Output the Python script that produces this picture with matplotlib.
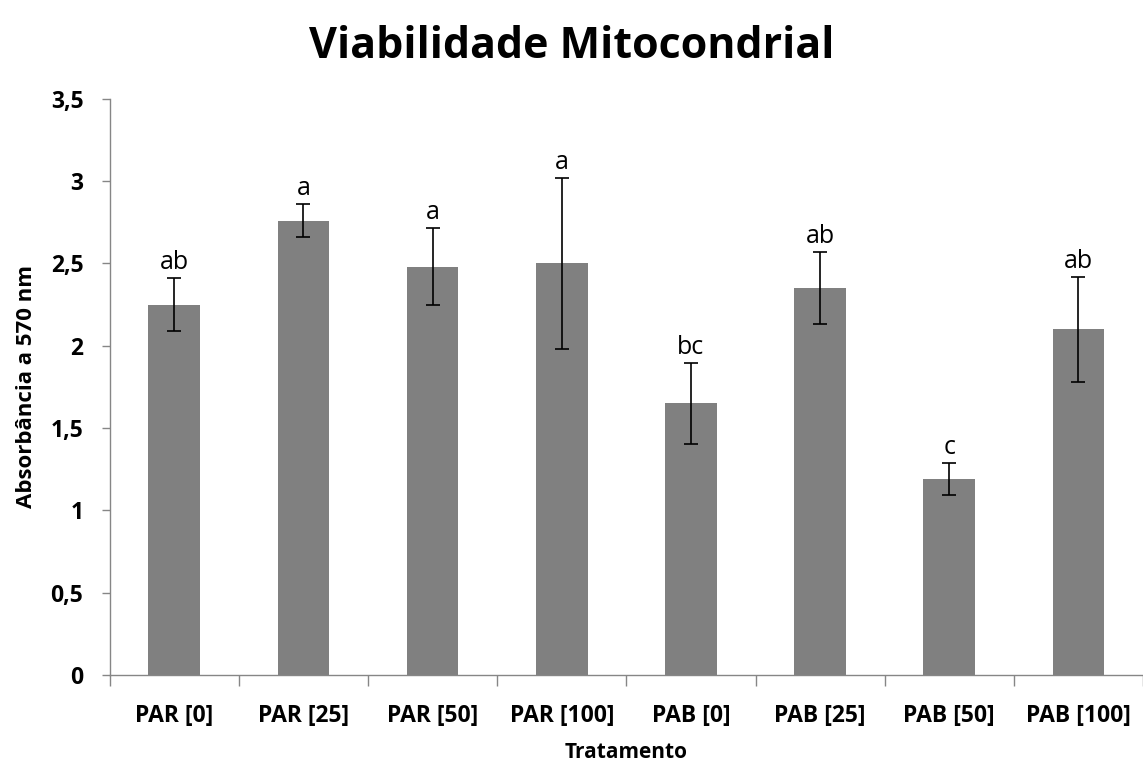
import matplotlib
matplotlib.use("Agg")
import matplotlib.pyplot as plt
import numpy as np

categories = ["PAR [0]", "PAR [25]", "PAR [50]", "PAR [100]", "PAB [0]", "PAB [25]", "PAB [50]", "PAB [100]"]
means = [2.25, 2.76, 2.48, 2.50, 1.65, 2.35, 1.19, 2.10]
errors = [0.16, 0.10, 0.235, 0.52, 0.245, 0.22, 0.10, 0.32]
letters = ["ab", "a", "a", "a", "bc", "ab", "c", "ab"]
yticks = [0, 0.5, 1, 1.5, 2, 2.5, 3, 3.5]
ytick_labels = ["0", "0,5", "1", "1,5", "2", "2,5", "3", "3,5"]

plt.rcParams['font.family'] = ['Open Sans', 'DejaVu Sans']

fig = plt.figure(figsize=(11.43, 7.66), dpi=100)
ax = fig.add_axes([0.096, 0.119, 0.904, 0.752])

x = np.arange(len(categories))
ax.bar(x, means, width=0.4, color="#808080", zorder=2)
ax.errorbar(x, means, yerr=errors, fmt="none", ecolor="black", elinewidth=1.2,
            capsize=5, capthick=1.2, zorder=3)
for xi, m, e, lab in zip(x, means, errors, letters):
    ax.annotate(lab, (xi, m + e), xytext=(0, 2), textcoords="offset points",
                ha="center", va="bottom", fontsize=18)

ax.set_xlim(-0.5, len(categories) - 0.5)
ax.set_ylim(0, 3.5)
ax.set_yticks(yticks)
ax.set_yticklabels(ytick_labels, fontsize=16.5, fontweight="bold")
ax.set_xticks(x)
ax.set_xticklabels(categories, fontsize=16.5, fontweight="bold")
ax.tick_params(axis="x", which="major", length=0, pad=21)
ax.set_xticks(np.arange(-0.5, len(categories)), minor=True)
ax.tick_params(axis="x", which="minor", length=8, color="#868686", width=1)
ax.tick_params(axis="y", length=6, color="#868686", width=1, pad=13)

for s in ["top", "right"]:
    ax.spines[s].set_visible(False)
for s in ["left", "bottom"]:
    ax.spines[s].set_color("#868686")
    ax.spines[s].set_linewidth(1)

ax.set_xlabel("Tratamento", fontsize=15, fontweight="bold", labelpad=10)
ax.set_ylabel("Absorbância a 570 nm", fontsize=16, fontweight="bold", labelpad=10)
fig.suptitle("Viabilidade Mitocondrial", fontsize=31, fontweight="bold", x=0.5, y=0.967)

fig.savefig("out.png", dpi=100)
